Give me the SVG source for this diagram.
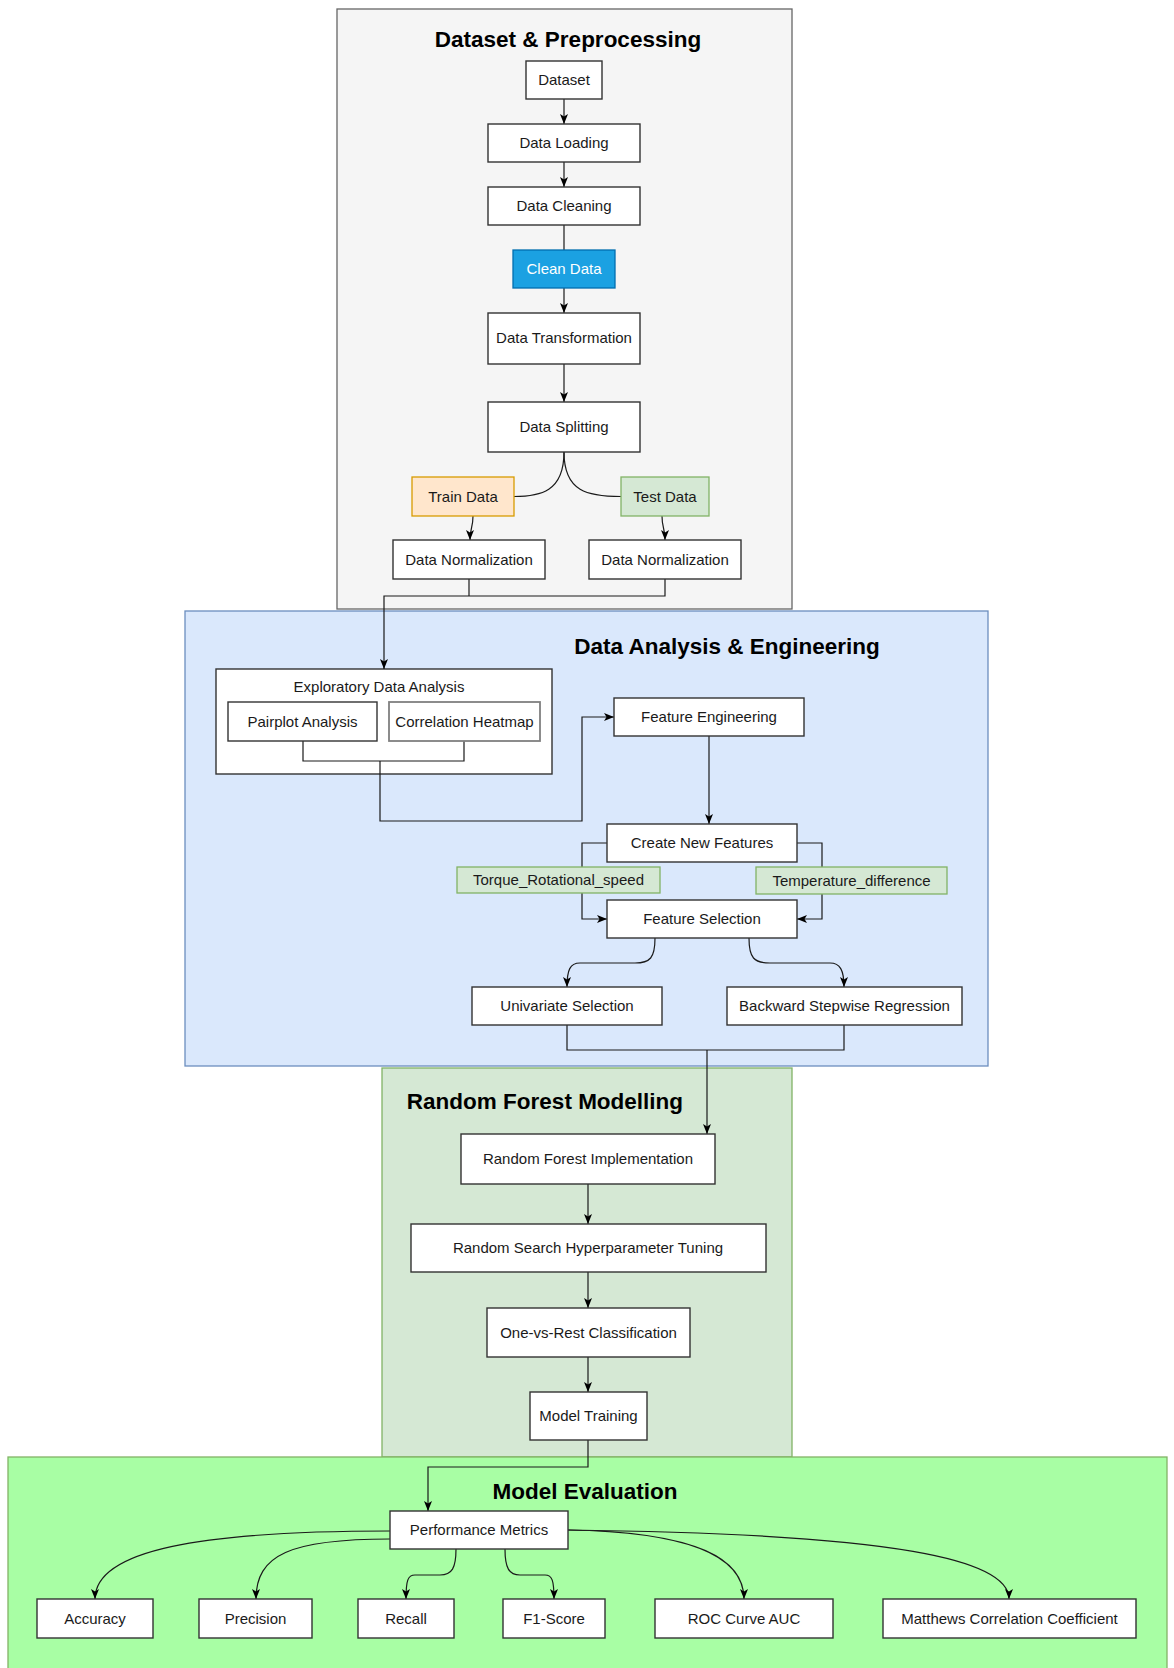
<svg xmlns="http://www.w3.org/2000/svg" width="1174" height="1668" viewBox="0 0 1174 1668">
<defs>
<style>
text{font-family:"Liberation Sans",Arial,sans-serif;fill:#1a1a1a}
.t{font-size:15px;text-anchor:middle}
.title{font-size:22.5px;font-weight:bold;text-anchor:middle;fill:#000}
.box{fill:#fff;stroke:#333;stroke-width:1.4}
.con{fill:none;stroke:#1a1a1a;stroke-width:1.2}
.arr{marker-end:url(#ah)}
</style>
<marker id="ah" viewBox="0 0 10 10" markerUnits="userSpaceOnUse" markerWidth="10" markerHeight="10" refX="10" refY="5" orient="auto">
<path d="M0,1 L10,5 L0,9 L2.5,5 Z" fill="#000"/>
</marker>
</defs>
<rect width="1174" height="1668" fill="#fff"/>

<g id="containers">
<g id="c-dataset">
<rect x="337" y="9" width="455" height="600" fill="#f5f5f5" stroke="#666" stroke-width="1.3"/>
<text class="title" x="568" y="47">Dataset &amp; Preprocessing</text>
</g>
<g id="c-analysis">
<rect x="185" y="611" width="803" height="455" fill="#dae8fc" stroke="#6c8ebf" stroke-width="1.3"/>
<text class="title" x="727" y="654">Data Analysis &amp; Engineering</text>
</g>
<g id="c-rf">
<rect x="382" y="1068" width="410" height="389" fill="#d5e8d4" stroke="#82b366" stroke-width="1.3"/>
<text class="title" x="545" y="1109">Random Forest Modelling</text>
</g>
<g id="c-eval">
<rect x="8" y="1457" width="1159" height="215" fill="#a8fea4" stroke="#82b366" stroke-width="1.3"/>
<text class="title" x="585" y="1499">Model Evaluation</text>
</g>
</g>

<g id="n-eda"><rect class="box" x="216" y="669" width="336" height="105"/><text class="t" x="379" y="692">Exploratory Data Analysis</text></g>

<g id="connectors">
<path class="con arr" d="M564,99 L564,124"/>
<path class="con arr" d="M564,162 L564,187"/>
<path class="con" d="M564,225 L564,250"/>
<path class="con arr" d="M564,288 L564,313"/>
<path class="con arr" d="M564,364 L564,402"/>
<path class="con" d="M564,452 C564,492 540,496.5 514,496.5"/>
<path class="con" d="M564,452 C564,492 588,496.5 621,496.5"/>
<path class="con arr" d="M473,516 C473,528 470,528 470,540"/>
<path class="con arr" d="M662,516 C662,528 665,528 665,540"/>
<path class="con" d="M469,579 L469,596"/>
<path class="con arr" d="M665,579 L665,596 L384,596 L384,669"/>
<path class="con" d="M303,741 L303,761 L464,761 L464,741"/>
<path class="con arr" d="M380,761 L380,821 L582,821 L582,717 L614,717"/>
<path class="con arr" d="M709,736 L709,824"/>
<path class="con arr" d="M607,843 L582,843 L582,919 L607,919"/>
<path class="con arr" d="M797,843 L822,843 L822,919 L797,919"/>
<path class="con arr" d="M655,938 C655,958 650,963 635,963 L580,963 C570,963 567,970 567,987"/>
<path class="con arr" d="M749,938 C749,958 754,963 770,963 L830,963 C840,963 844,970 844,987"/>
<path class="con" d="M567,1025 L567,1050 L844,1050 L844,1025"/>
<path class="con arr" d="M707,1050 L707,1134" stroke-width="2.2"/>
<path class="con arr" d="M588,1184 L588,1224"/>
<path class="con arr" d="M588,1272 L588,1308"/>
<path class="con arr" d="M588,1357 L588,1392"/>
<path class="con arr" d="M588,1440 L588,1467 L428,1467 L428,1511"/>
<path class="con arr" d="M390,1531 C200,1531 95,1550 95,1599"/>
<path class="con arr" d="M390,1539 C290,1539 256,1555 256,1599"/>
<path class="con arr" d="M456,1549 C456,1568 452,1575 440,1575 L415,1575 C408,1575 406,1580 406,1599"/>
<path class="con arr" d="M505,1549 C505,1568 509,1575 520,1575 L545,1575 C552,1575 554,1580 554,1599"/>
<path class="con arr" d="M568,1530 C700,1532 744,1560 744,1599"/>
<path class="con arr" d="M568,1530 C900,1534 1009,1560 1009,1599"/>
</g>

<g id="nodes">
<g id="n-dataset"><rect class="box" x="526" y="61" width="76" height="38"/><text class="t" x="564" y="85">Dataset</text></g>
<g id="n-loading"><rect class="box" x="488" y="124" width="152" height="38"/><text class="t" x="564" y="148">Data Loading</text></g>
<g id="n-cleaning"><rect class="box" x="488" y="187" width="152" height="38"/><text class="t" x="564" y="211">Data Cleaning</text></g>
<g id="n-cleandata"><rect x="513" y="250" width="102" height="38" fill="#1ba1e2" stroke="#006eaf" stroke-width="1.3"/><text class="t" x="564" y="274" style="fill:#fff">Clean Data</text></g>
<g id="n-transform"><rect class="box" x="488" y="313" width="152" height="51"/><text class="t" x="564" y="343">Data Transformation</text></g>
<g id="n-split"><rect class="box" x="488" y="402" width="152" height="50"/><text class="t" x="564" y="432">Data Splitting</text></g>
<g id="n-train"><rect x="412" y="477" width="102" height="39" fill="#ffe6cc" stroke="#d79b00" stroke-width="1.3"/><text class="t" x="463" y="501.5">Train Data</text></g>
<g id="n-test"><rect x="621" y="477" width="88" height="39" fill="#d5e8d4" stroke="#82b366" stroke-width="1.3"/><text class="t" x="665" y="501.5">Test Data</text></g>
<g id="n-norm1"><rect class="box" x="393" y="540" width="152" height="39"/><text class="t" x="469" y="564.5">Data Normalization</text></g>
<g id="n-norm2"><rect class="box" x="589" y="540" width="152" height="39"/><text class="t" x="665" y="564.5">Data Normalization</text></g>

<g id="n-pairplot"><rect class="box" x="228" y="702" width="149" height="39"/><text class="t" x="302.5" y="726.5">Pairplot Analysis</text></g>
<g id="n-corr"><rect x="389" y="702" width="151" height="39" fill="#fff" stroke="#808080" stroke-width="1.8"/><text class="t" x="464.5" y="726.5">Correlation Heatmap</text></g>
<g id="n-fe"><rect class="box" x="614" y="698" width="190" height="38"/><text class="t" x="709" y="722">Feature Engineering</text></g>
<g id="n-cnf"><rect class="box" x="607" y="824" width="190" height="38"/><text class="t" x="702" y="848">Create New Features</text></g>
<g id="n-torque"><rect x="457" y="867" width="203" height="26" fill="#d5e8d4" stroke="#82b366" stroke-width="1.3"/><text class="t" x="558.5" y="885">Torque_Rotational_speed</text></g>
<g id="n-temp"><rect x="756" y="867" width="191" height="27" fill="#d5e8d4" stroke="#82b366" stroke-width="1.3"/><text class="t" x="851.5" y="885.5">Temperature_difference</text></g>
<g id="n-fs"><rect class="box" x="607" y="900" width="190" height="38"/><text class="t" x="702" y="924">Feature Selection</text></g>
<g id="n-uni"><rect class="box" x="472" y="987" width="190" height="38"/><text class="t" x="567" y="1011">Univariate Selection</text></g>
<g id="n-bsr"><rect class="box" x="727" y="987" width="235" height="38"/><text class="t" x="844.5" y="1011">Backward Stepwise Regression</text></g>

<g id="n-rfi"><rect class="box" x="461" y="1134" width="254" height="50"/><text class="t" x="588" y="1164">Random Forest Implementation</text></g>
<g id="n-rsht"><rect class="box" x="411" y="1224" width="355" height="48"/><text class="t" x="588" y="1253">Random Search Hyperparameter Tuning</text></g>
<g id="n-ovr"><rect class="box" x="487" y="1308" width="203" height="49"/><text class="t" x="588.5" y="1337.5">One-vs-Rest Classification</text></g>
<g id="n-train-model"><rect class="box" x="530" y="1392" width="117" height="48"/><text class="t" x="588.5" y="1421">Model Training</text></g>

<g id="n-pm"><rect class="box" x="390" y="1511" width="178" height="38"/><text class="t" x="479" y="1535">Performance Metrics</text></g>
<g id="n-acc"><rect class="box" x="37" y="1599" width="116" height="39"/><text class="t" x="95" y="1623.5">Accuracy</text></g>
<g id="n-prec"><rect class="box" x="199" y="1599" width="113" height="39"/><text class="t" x="255.5" y="1623.5">Precision</text></g>
<g id="n-recall"><rect class="box" x="358" y="1599" width="96" height="39"/><text class="t" x="406" y="1623.5">Recall</text></g>
<g id="n-f1"><rect class="box" x="503" y="1599" width="102" height="39"/><text class="t" x="554" y="1623.5">F1-Score</text></g>
<g id="n-roc"><rect class="box" x="655" y="1599" width="178" height="39"/><text class="t" x="744" y="1623.5">ROC Curve AUC</text></g>
<g id="n-mcc"><rect class="box" x="883" y="1599" width="253" height="39"/><text class="t" x="1009.5" y="1623.5">Matthews Correlation Coefficient</text></g>
</g>
</svg>
